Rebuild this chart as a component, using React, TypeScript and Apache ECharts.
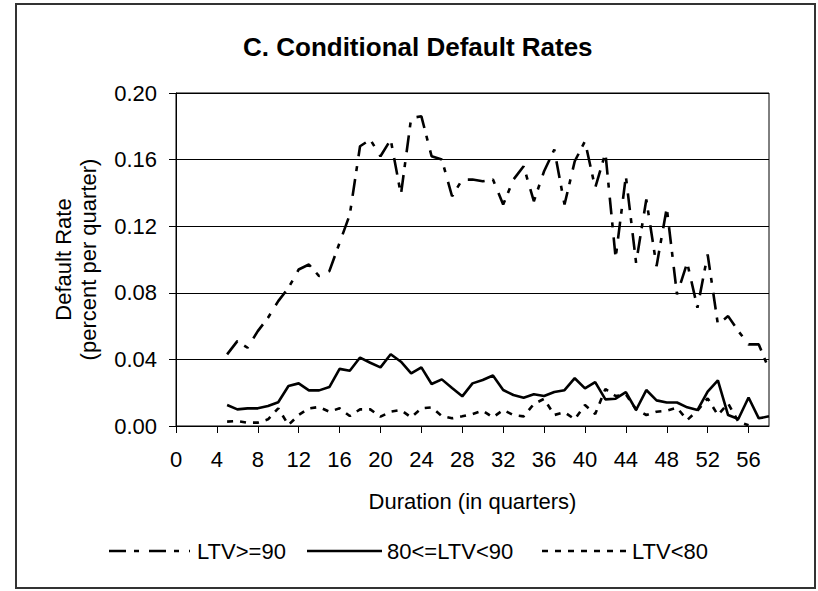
import React, { useEffect, useRef } from "react";
import * as echarts from "echarts";

// Duration in quarters for each observation
const quarters = [
  5, 6, 7, 8, 9, 10, 11, 12, 13, 14, 15, 16, 17, 18, 19, 20, 21, 22, 23, 24,
  25, 26, 27, 28, 29, 30, 31, 32, 33, 34, 35, 36, 37, 38, 39, 40, 41, 42, 43,
  44, 45, 46, 47, 48, 49, 50, 51, 52, 53, 54, 55, 56, 57, 58,
];

// LTV>=90 (quarters 5..58)
const ltvHigh = [
  0.043, 0.051, 0.047, 0.057, 0.065, 0.075, 0.083, 0.094, 0.097, 0.09, 0.093,
  0.11, 0.127, 0.168, 0.172, 0.162, 0.172, 0.139, 0.185, 0.186, 0.162, 0.16,
  0.138, 0.148, 0.148, 0.147, 0.148, 0.133, 0.148, 0.156, 0.135, 0.153, 0.166,
  0.133, 0.159, 0.171, 0.143, 0.164, 0.101, 0.15, 0.098, 0.136, 0.096, 0.131,
  0.079, 0.098, 0.071, 0.103, 0.061, 0.066, 0.057, 0.049, 0.049, 0.034,
];

// 80<=LTV<90 (quarters 5..58)
const ltvMid = [
  0.0126, 0.01, 0.0106, 0.0106, 0.012, 0.0143, 0.024, 0.0256, 0.0214, 0.0214,
  0.0234, 0.0343, 0.0332, 0.0411, 0.038, 0.0352, 0.0431, 0.0386, 0.0316, 0.0352,
  0.0252, 0.028, 0.0228, 0.0178, 0.0256, 0.0276, 0.0303, 0.0216, 0.0186, 0.017,
  0.0191, 0.018, 0.0204, 0.0215, 0.0287, 0.0226, 0.0264, 0.016, 0.0164, 0.0203,
  0.0096, 0.0216, 0.0154, 0.0141, 0.0141, 0.0112, 0.0096, 0.0206, 0.0274,
  0.0066, 0.0042, 0.0171, 0.0046, 0.0058,
];

// LTV<80 (quarters 5..56)
const ltvLow = [
  0.0026, 0.003, 0.002, 0.002, 0.004, 0.0106, 0.0006, 0.0066, 0.0106, 0.0114,
  0.0086, 0.0106, 0.006, 0.01, 0.01, 0.0056, 0.0086, 0.0096, 0.0052, 0.0106,
  0.0112, 0.006, 0.0046, 0.0058, 0.0072, 0.0092, 0.0052, 0.0096, 0.0066, 0.0058,
  0.0132, 0.0163, 0.0066, 0.0083, 0.004, 0.0126, 0.0072, 0.0222, 0.018, 0.019,
  0.01, 0.0066, 0.0086, 0.0092, 0.011, 0.0036, 0.0092, 0.0166, 0.0066, 0.0136,
  0.0026, 0.0004,
];

const xTickValues = [0, 4, 8, 12, 16, 20, 24, 28, 32, 36, 40, 44, 48, 52, 56];
const seriesNames = ["LTV>=90", "80<=LTV<90", "LTV<80"];

const FONT = '"Liberation Sans", Arial, Helvetica, sans-serif';
const LINE_W = 2.6;
const dashes: (number[] | null)[] = [[17, 8, 5, 10], null, [6, 7]];
// legend layout: [line start, line end, text x]
const legendSlots = [
  [109, 190, 197],
  [307, 382, 387],
  [542, 626, 632],
];
const LEGEND_Y = 551;

export default function App() {
  const ref = useRef<HTMLDivElement>(null);

  useEffect(() => {
    if (!ref.current) return;
    const chart = echarts.init(ref.current, null, { renderer: "svg" });
    const pairs = (vals: number[]) => vals.map((v, i) => [quarters[i], v]);
    const allValues = [ltvHigh, ltvMid, ltvLow];

    const legendGraphics: any[] = [];
    seriesNames.forEach((name, i) => {
      const [x1, x2, tx] = legendSlots[i];
      legendGraphics.push({
        type: "line",
        silent: true,
        shape: { x1, y1: LEGEND_Y, x2, y2: LEGEND_Y },
        style: {
          stroke: "#000",
          lineWidth: LINE_W,
          lineDash: dashes[i] || undefined,
        },
      });
      legendGraphics.push({
        type: "text",
        silent: true,
        x: tx,
        y: LEGEND_Y,
        style: {
          text: name,
          fill: "#000",
          fontFamily: FONT,
          fontSize: 22,
          verticalAlign: "middle",
          align: "left",
        },
      });
    });

    chart.setOption({
      animation: false,
      backgroundColor: "#ffffff",
      title: {
        text: "C. Conditional Default Rates",
        left: 243,
        top: 34,
        padding: 0,
        textStyle: {
          fontFamily: FONT,
          fontSize: 26,
          fontWeight: "bold",
          color: "#000",
        },
      },
      grid: {
        left: 176,
        top: 93,
        right: 49,
        bottom: 165,
        show: true,
        borderColor: "#000",
        borderWidth: 1,
        backgroundColor: "transparent",
      },
      xAxis: {
        type: "value",
        min: 0,
        max: 58,
        interval: 4,
        name: "Duration (in quarters)",
        nameLocation: "middle",
        nameGap: 63,
        nameTextStyle: {
          fontFamily: FONT,
          fontSize: 22,
          color: "#000",
          lineHeight: 25,
        },
        axisLine: { show: true, lineStyle: { color: "#000", width: 1 } },
        axisTick: {
          show: true,
          customValues: xTickValues,
          length: 7,
          lineStyle: { color: "#000", width: 1 },
        },
        axisLabel: {
          customValues: xTickValues,
          fontFamily: FONT,
          fontSize: 22,
          color: "#000",
          margin: 22,
        },
        splitLine: { show: false },
      },
      yAxis: {
        type: "value",
        min: 0,
        max: 0.2,
        interval: 0.04,
        name: "Default Rate\n(percent per quarter)",
        nameLocation: "middle",
        nameRotate: 90,
        nameGap: 75,
        nameTextStyle: {
          fontFamily: FONT,
          fontSize: 22,
          color: "#000",
          lineHeight: 25,
          align: "center",
        },
        axisLine: { show: true, lineStyle: { color: "#000", width: 1 } },
        axisTick: {
          show: true,
          length: 7,
          lineStyle: { color: "#000", width: 1 },
        },
        axisLabel: {
          fontFamily: FONT,
          fontSize: 22,
          color: "#000",
          margin: 19,
          formatter: (v: number) => v.toFixed(2),
        },
        splitLine: { show: true, lineStyle: { color: "#000", width: 1 } },
      },
      series: seriesNames.map((name, i) => ({
        name,
        type: "line",
        data: pairs(allValues[i]),
        symbol: "none",
        color: "#000",
        lineStyle: {
          color: "#000",
          width: LINE_W,
          type: dashes[i] || "solid",
        },
      })),
      graphic: [
        ...legendGraphics,
        {
          type: "rect",
          silent: true,
          z: 100,
          shape: { x: 16, y: 4, width: 799, height: 584 },
          style: { fill: "none", stroke: "#333", lineWidth: 2 },
        },
      ],
    });

    return () => chart.dispose();
  }, []);

  return (
    <div
      ref={ref}
      style={{ position: "absolute", left: 0, top: 0, width: 818, height: 591 }}
    />
  );
}
